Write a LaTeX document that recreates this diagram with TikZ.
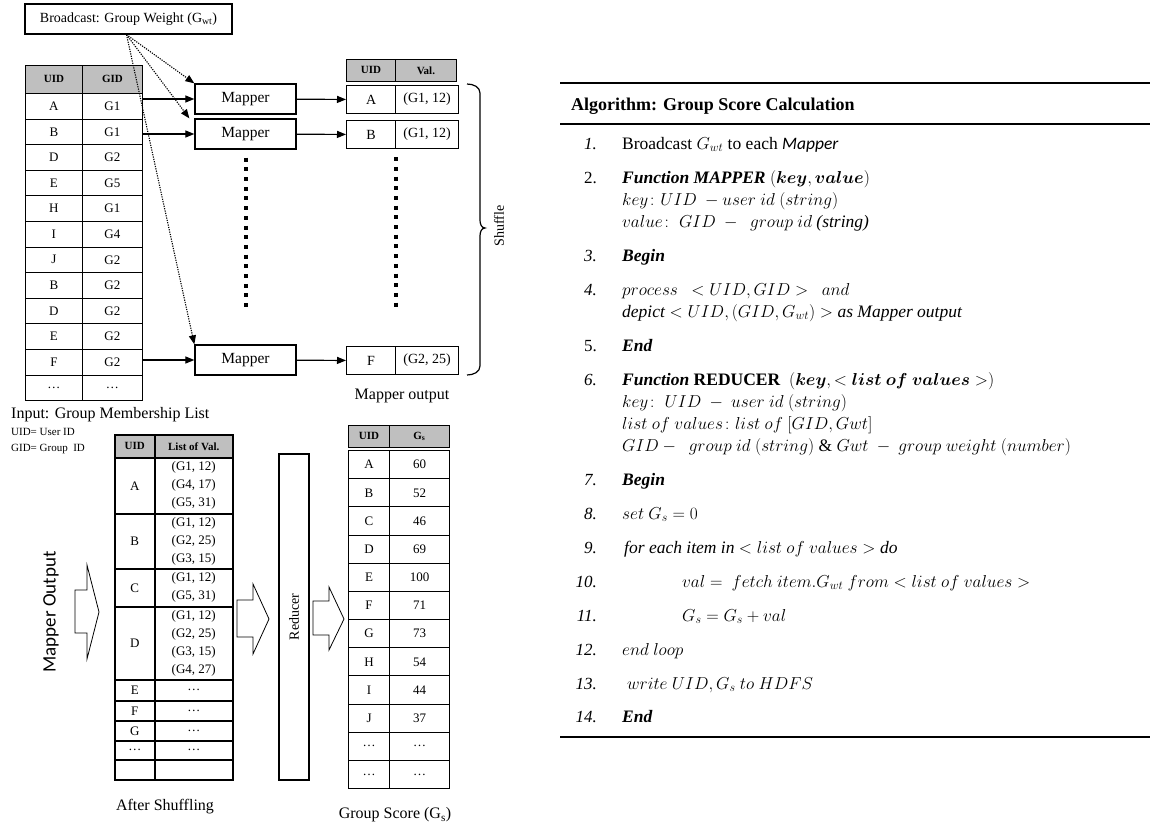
\documentclass[tikz,border=0pt]{standalone}
\usepackage{fontspec}
\usepackage{amsmath}
\setmainfont{Liberation Serif}
\newfontfamily\calfont{Carlito}
\usetikzlibrary{positioning,calc,arrows.meta,decorations.pathreplacing}

\tikzstyle{mapper} = [rectangle, draw=black, line width=1.3pt, minimum width=101pt, minimum height=30pt, inner sep=0pt, font=\fontsize{15.5}{17}\selectfont]
\tikzstyle{cell} = [rectangle, draw=black, line width=0.8pt, inner sep=0pt, anchor=north west, align=center, font=\fontsize{13}{18}\selectfont]
\tikzstyle{hdcell} = [cell, fill=gray!50, font=\fontsize{11}{13}\selectfont\bfseries]
\tikzstyle{shcell} = [cell, line width=1.5pt]
\tikzstyle{arrow} = [line width=1.2pt,->,>={Triangle[length=9pt,width=7pt]}]
\tikzstyle{dotarrow} = [line width=1.1pt, dash pattern=on 1.2pt off 1.2pt, ->, >={Triangle[length=9pt,width=7pt]}]
\tikzstyle{dotcol} = [line width=4pt, dash pattern=on 4pt off 5.7pt]
\tikzstyle{fatarrow} = [line width=0.8pt, fill=white]
\tikzstyle{captxt} = [inner sep=0pt, font=\fontsize{16}{18}\selectfont]
\tikzstyle{algo} = [anchor=base west, inner sep=0pt, font=\fontsize{17.5}{20}\selectfont]
\tikzstyle{num} = [anchor=base east, inner sep=0pt, font=\fontsize{17}{20}\selectfont\itshape]

\begin{document}
\begin{tikzpicture}[x=1pt,y=-1pt]

\path[fill=white] (0,0) rectangle (1150,822);
\useasboundingbox (0,0) rectangle (1150,822);

% Broadcast and input list
\node (bcast) [draw, line width=1.2pt, minimum width=207pt, minimum height=30pt, inner sep=0pt, font=\fontsize{14}{16}\selectfont] at (128.5,19) {Broadcast: Group Weight (G\textsubscript{wt})};

\node (inu0) [hdcell, minimum width=57pt, minimum height=28pt] at (25,65) {UID};
\node (ing0) [hdcell, minimum width=60pt, minimum height=28pt] at (82,65) {GID};
\foreach \u/\g [count=\i] in {A/G1,B/G1,D/G2,E/G5,H/G1,I/G4,J/G2,B/G2,D/G2,E/G2,F/G2,\dots/\dots} {
  \node (inu\i) [cell, minimum width=57pt, minimum height=25.6pt] at (25,{93+(\i-1)*25.6}) {\u};
  \node (ing\i) [cell, minimum width=60pt, minimum height=25.6pt] at (82,{93+(\i-1)*25.6}) {\g};
}

\node (inlbl) [captxt, anchor=west] at (11,415) {Input: Group Membership List};
\node (uidlbl) [inner sep=0pt, anchor=west, font=\fontsize{11}{13}\selectfont] at (11,432) {UID= User ID};
\node (gidlbl) [inner sep=0pt, anchor=west, font=\fontsize{11}{13}\selectfont] at (11,449) {GID= Group\ \ ID};

% Mappers
\node (m1) [mapper] at (245.5,99) {Mapper};
\node (m2) [mapper] at (245.5,134) {Mapper};
\node (m3) [mapper] at (245.5,360) {Mapper};

% Mapper output
\node (ohu) [hdcell, minimum width=49pt, minimum height=22pt] at (346,59) {UID};
\node (ohv) [hdcell, minimum width=61pt, minimum height=22pt] at (395,59) {Val.};
\foreach \n/\u/\v/\y in {oa/A/{(G1, 12)}/85, ob/B/{(G1, 12)}/120, of/F/{(G2, 25)}/346} {
  \node (\n u) [cell, line width=1.1pt, minimum width=49pt, minimum height=28pt, font=\fontsize{14}{16}\selectfont] at (346,\y) {\u};
  \node (\n v) [cell, line width=1.1pt, minimum width=63pt, minimum height=28pt, font=\fontsize{14}{16}\selectfont] at (395,\y) {\v};
}
\node (molbl) [captxt] at (402,396) {Mapper output};

\draw [line width=1.2pt] (467,84) to[out=0,in=90] (480,93) -- (480,220) to[out=-90,in=180] (485,228) to[out=180,in=90] (480,236) -- (480,366) to[out=-90,in=0] (467,375);
\node (shuf) [captxt, rotate=90, font=\fontsize{14}{16}\selectfont] at (499,226) {Shuffle};

% Arrows
\draw [dotarrow] ([xshift=-2pt]bcast.south) -- (m1.north west);
\draw [dotarrow] ([xshift=-2pt]bcast.south) -- ([xshift=-5pt]m2.north west);
\draw [dotarrow] ([xshift=-2pt]bcast.south) -- (m3.north west);
\draw [arrow] (ing1.east |- m1.west) -- (m1.west);
\draw [arrow] (ing2.east |- m2.west) -- (m2.west);
\draw [arrow] (ing11.east |- m3.west) -- (m3.west);
\draw [arrow] (m1) -- (oau);
\draw [arrow] (m2) -- (obu);
\draw [arrow] (m3) -- (ofu);
\draw [dotcol] ([yshift=-8pt]m2.south) -- ++(0,153);
\draw [dotcol] ([yshift=-8pt]obu.south east) -- ++(0,153);

% After shuffling
\node (shu0) [hdcell, line width=1.5pt, minimum width=40pt, minimum height=23pt] at (114,434) {UID};
\node (shv0) [hdcell, line width=1.5pt, minimum width=78pt, minimum height=23pt] at (154,434) {List of Val.};
\foreach \u/\v/\y/\h [count=\i] in {A/{(G1, 12)\\(G4, 17)\\(G5, 31)}/457/56, B/{(G1, 12)\\(G2, 25)\\(G3, 15)}/513/55, C/{(G1, 12)\\(G5, 31)}/568/38, D/{(G1, 12)\\(G2, 25)\\(G3, 15)\\(G4, 27)}/606/73, E/\dots/679/21, F/\dots/700/20, G/\dots/720/20, \dots/\dots/740/19, {}/{}/759/20} {
  \node (shu\i) [shcell, minimum width=40pt, minimum height=\h pt] at (114,\y) {\u};
  \node (shv\i) [shcell, minimum width=78pt, minimum height=\h pt] at (154,\y) {\v};
}
\node (shlbl) [captxt] at (165,807) {After Shuffling};

\node (mout) [rotate=90, inner sep=0pt, font=\calfont\fontsize{19}{21}\selectfont] at (51,612) {Mapper Output};
\draw [fatarrow] (75,590) -- (87,590) -- (87,565) -- (99,612) -- (87,659) -- (87,633) -- (75,633) -- cycle;
\draw [fatarrow] (237,600) -- (253,600) -- (253,584) -- (269,619) -- (253,654) -- (253,637) -- (237,637) -- cycle;

% Reducer
\node (red) [draw, line width=1.2pt, rotate=90, minimum width=326pt, minimum height=30pt, inner sep=0pt, font=\fontsize{14}{16}\selectfont] at (294,617) {Reducer};
\draw [fatarrow] (313,601) -- (329,601) -- (329,587) -- (344,619) -- (329,650) -- (329,635) -- (313,635) -- cycle;

% Group score
\node (gsu0) [hdcell, minimum width=41pt, minimum height=22pt] at (348,425) {UID};
\node (gsv0) [hdcell, minimum width=60pt, minimum height=22pt] at (389,425) {G\textsubscript{s}};
\foreach \u/\v [count=\i] in {A/60,B/52,C/46,D/69,E/100,F/71,G/73,H/54,I/44,J/37,\dots/\dots,\dots/\dots} {
  \node (gsu\i) [cell, line width=1.1pt, minimum width=41pt, minimum height=28.17pt] at (348,{450+(\i-1)*28.17}) {\u};
  \node (gsv\i) [cell, line width=1.1pt, minimum width=60pt, minimum height=28.17pt] at (389,{450+(\i-1)*28.17}) {\v};
}
\node (gslbl) [captxt] at (395,815) {Group Score (G\textsubscript{s})};

% Algorithm
\draw [line width=2pt] (560,83) -- (1150,83);
\draw [line width=1.2pt] (560,124) -- (1150,124);
\draw [line width=2pt] (560,737) -- (1150,737);
\node (title) [algo, font=\fontsize{18}{20}\selectfont\bfseries] at (571,110) {Algorithm: Group Score Calculation};

\foreach \n/\y in {1/149,3/261,4/295,6/385,7/485,8/519,9/553,10/587,11/621,12/655,13/689,14/722}
  \node (n\n) [num] at (597,\y) {\n.};
\node (n2) [num, font=\fontsize{17}{20}\selectfont] at (597,183) {2.};
\node (n5) [num, font=\fontsize{17}{20}\selectfont] at (597,351) {5.};

\node (t1) [algo] at (622,149) {Broadcast $G_{wt}$ to each {\calfont\itshape Mapper}};
\node (t2) [algo] at (622,183) {\textbf{\textit{Function MAPPER}} $(\boldsymbol{key}, \boldsymbol{value})$};
\node (t2a) [algo] at (622,205) {$key\colon UID\ - user\ id\ (string)$};
\node (t2b) [algo] at (622,227) {$value\colon\ GID\ -\ \ group\ id$ \textit{(string)}};
\node (t3) [algo] at (622,261) {\textbf{\textit{Begin}}};
\node (t4) [algo] at (622,295) {$process\ \ < UID, GID >\ \ and$};
\node (t4a) [algo] at (622,317) {\textit{depict} $< UID, (GID, G_{wt}) >$ \textit{as Mapper output}};
\node (t5) [algo] at (622,351) {\textbf{\textit{End}}};
\node (t6) [algo] at (622,385) {\textbf{\textit{Function} REDUCER}\ \ $(\boldsymbol{key}, <\boldsymbol{list\ of\ values}>)$};
\node (t6a) [algo] at (622,407) {$key\colon\ UID\ -\ user\ id\ (string)$};
\node (t6b) [algo] at (622,429) {$list\ of\ values\colon list\ of\ [GID, Gwt]$};
\node (t6c) [algo] at (622,451) {$GID -\ \ group\ id\ (string)\ \&\ Gwt\ -\ group\ weight\ (number)$};
\node (t7) [algo] at (622,485) {\textbf{\textit{Begin}}};
\node (t8) [algo] at (622,519) {$set\ G_s = 0$};
\node (t9) [algo] at (624,553) {\textit{for each item in} $< list\ of\ values >$ \textit{do}};
\node (t10) [algo] at (682,587) {$val =\ fetch\ item.G_{wt}\ from < list\ of\ values >$};
\node (t11) [algo] at (682,621) {$G_s = G_s + val$};
\node (t12) [algo] at (622,655) {$end\ loop$};
\node (t13) [algo] at (627,689) {$write\ UID, G_s\ to\ HDFS$};
\node (t14) [algo] at (622,722) {\textbf{\textit{End}}};

\end{tikzpicture}
\end{document}
